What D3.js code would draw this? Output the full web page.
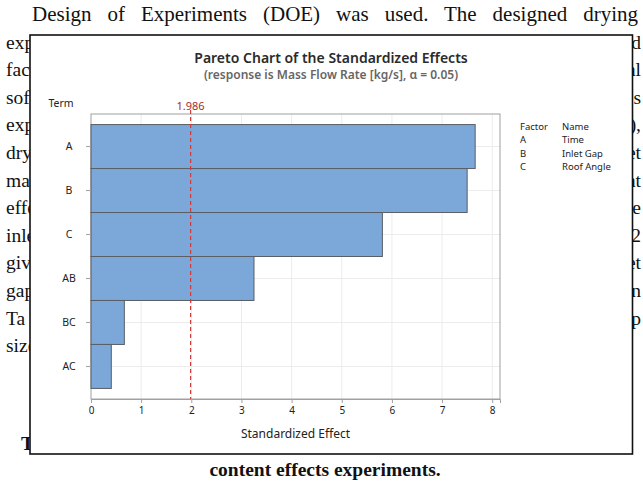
<!DOCTYPE html>
<html>
<head>
<meta charset="utf-8">
<script src="https://cdn.jsdelivr.net/npm/d3@7"></script>
<style>
  html, body { margin: 0; padding: 0; background: #fff; }
  svg { display: block; }
</style>
</head>
<body>
<svg id="page" width="643" height="484"></svg>
<script>
// Effects, ordered from largest to smallest
const terms = ["A", "B", "C", "AB", "BC", "AC"];
const effects = [7.66, 7.50, 5.81, 3.25, 0.665, 0.405];
const xTicks = [0, 1, 2, 3, 4, 5, 6, 7, 8];
const critical = 1.986;
const factorCodes = ["A", "B", "C"];
const factorNames = ["Time", "Inlet Gap", "Roof Angle"];

// Surrounding body text fragments
const leftFragments = ["exp", "fact", "soft", "expe", "dryi", "mass", "effe", "inlet", "give", "gap", "Ta", "size"];
const rightFragments = ["d", "al", "s", "0),", "et", "at", "e", "2", "et", "n", "p"];

const svg = d3.select("#page");
const serif = "'Liberation Serif', 'Times New Roman', serif";
const sans = "'Noto Sans', 'Open Sans', sans-serif";

// ---- page text ----
const textG = svg.append("g").attr("font-family", serif).attr("font-size", 19.5).attr("fill", "#111");
const first = textG.append("text").attr("x", 32).attr("y", 21).attr("font-size", 21)
  .text("Design of Experiments (DOE) was used. The designed drying");
// justify the opening line by widening the word gaps
{
  const natural = first.node().getComputedTextLength();
  const gaps = first.text().split(" ").length - 1;
  first.attr("word-spacing", Math.max(0, (606 - natural) / gaps));
}
const lineY = i => 48.5 + i * 27.6;
textG.selectAll("text.lf").data(leftFragments).join("text").attr("class", "lf")
  .attr("x", 6).attr("y", (d, i) => lineY(i)).text(d => d);
textG.selectAll("text.rf").data(rightFragments).join("text").attr("class", "rf")
  .attr("x", 641).attr("y", (d, i) => lineY(i)).attr("text-anchor", "end").text(d => d);
textG.append("text").attr("x", 21).attr("y", 450).attr("font-weight", "bold").text("Ta");
textG.append("text").attr("x", 325).attr("y", 476).attr("text-anchor", "middle")
  .attr("font-weight", "bold").text("content effects experiments.");

// ---- chart panel ----
svg.append("rect").attr("x", 30).attr("y", 35).attr("width", 602.5).attr("height", 419)
  .attr("fill", "#fff").attr("stroke", "#111").attr("stroke-width", 1.6);

const plot = { left: 91, right: 500, top: 114, bottom: 399 };
const x = d3.scaleLinear().domain([0, 8.155]).range([plot.left, plot.right]);
const y = d3.scaleBand().domain(terms).range([plot.top, plot.bottom])
  .paddingInner(0).paddingOuter(0.24);

const chart = svg.append("g").attr("font-family", sans);

// gridlines
chart.append("g").selectAll("line").data(xTicks.filter(t => t > 0)).join("line")
  .attr("x1", d => x(d)).attr("x2", d => x(d)).attr("y1", plot.top).attr("y2", plot.bottom)
  .attr("stroke", "#ececec").attr("stroke-width", 1);
chart.append("g").selectAll("line").data(terms).join("line")
  .attr("x1", plot.left).attr("x2", plot.right)
  .attr("y1", d => y(d) + y.bandwidth() / 2).attr("y2", d => y(d) + y.bandwidth() / 2)
  .attr("stroke", "#ececec").attr("stroke-width", 1);

// plot frame
chart.append("rect").attr("x", plot.left).attr("y", plot.top)
  .attr("width", plot.right - plot.left).attr("height", plot.bottom - plot.top)
  .attr("fill", "none").attr("stroke", "#a0a0a0").attr("stroke-width", 1);

// bars
chart.append("g").selectAll("rect").data(terms).join("rect")
  .attr("x", x(0)).attr("y", d => y(d))
  .attr("width", (d, i) => x(effects[i]) - x(0)).attr("height", y.bandwidth())
  .attr("fill", "#7ba7d9").attr("stroke", "#5a5f66").attr("stroke-width", 1);

// reference line
chart.append("line").attr("x1", x(critical)).attr("x2", x(critical))
  .attr("y1", plot.top - 4).attr("y2", plot.bottom)
  .attr("stroke", "#d43a3a").attr("stroke-width", 1.2).attr("stroke-dasharray", "4,3");
chart.append("text").attr("x", x(critical)).attr("y", 110).attr("text-anchor", "middle")
  .attr("font-size", 11).attr("fill", "#a82a2a").text(critical.toFixed(3));

// x axis
const xAxis = chart.append("g").attr("transform", `translate(0,${plot.bottom})`)
  .call(d3.axisBottom(x).tickValues(xTicks).tickSize(4).tickPadding(4).tickFormat(d3.format("d")));
xAxis.select(".domain").attr("stroke", "#a0a0a0");
xAxis.selectAll(".tick line").attr("stroke", "#a0a0a0");
xAxis.selectAll("text").attr("font-family", sans).attr("font-size", 10).attr("fill", "#222");

// y axis
const yAxis = chart.append("g").attr("transform", `translate(${plot.left},0)`)
  .call(d3.axisLeft(y).tickSize(5).tickPadding(0));
yAxis.select(".domain").remove();
yAxis.selectAll(".tick line").attr("stroke", "#a0a0a0");
yAxis.selectAll("text").attr("font-family", sans).attr("font-size", 10.5).attr("fill", "#222")
  .attr("text-anchor", "middle").attr("x", -22);

chart.append("text").attr("x", 61).attr("y", 107).attr("text-anchor", "middle")
  .attr("font-size", 10.5).attr("fill", "#222").text("Term");
chart.append("text").attr("x", (plot.left + plot.right) / 2).attr("y", 438)
  .attr("text-anchor", "middle").attr("font-size", 12).attr("fill", "#222")
  .text("Standardized Effect");

// titles
chart.append("text").attr("x", 331).attr("y", 62.5).attr("text-anchor", "middle")
  .attr("font-size", 14).attr("font-weight", 600).attr("fill", "#2a2a2a")
  .text("Pareto Chart of the Standardized Effects");
chart.append("text").attr("x", 331).attr("y", 78.5).attr("text-anchor", "middle")
  .attr("font-size", 12).attr("font-weight", 600).attr("fill", "#666")
  .text("(response is Mass Flow Rate [kg/s], α = 0.05)");

// factor key
const key = chart.append("g").attr("font-size", 9.5).attr("fill", "#222");
key.append("text").attr("x", 520).attr("y", 130).text("Factor");
key.append("text").attr("x", 562).attr("y", 130).text("Name");
key.selectAll("text.code").data(factorCodes).join("text").attr("class", "code")
  .attr("x", 520).attr("y", (d, i) => 143.3 + i * 13.3).text(d => d);
key.selectAll("text.name").data(factorNames).join("text").attr("class", "name")
  .attr("x", 562).attr("y", (d, i) => 143.3 + i * 13.3).text(d => d);
</script>
</body>
</html>
